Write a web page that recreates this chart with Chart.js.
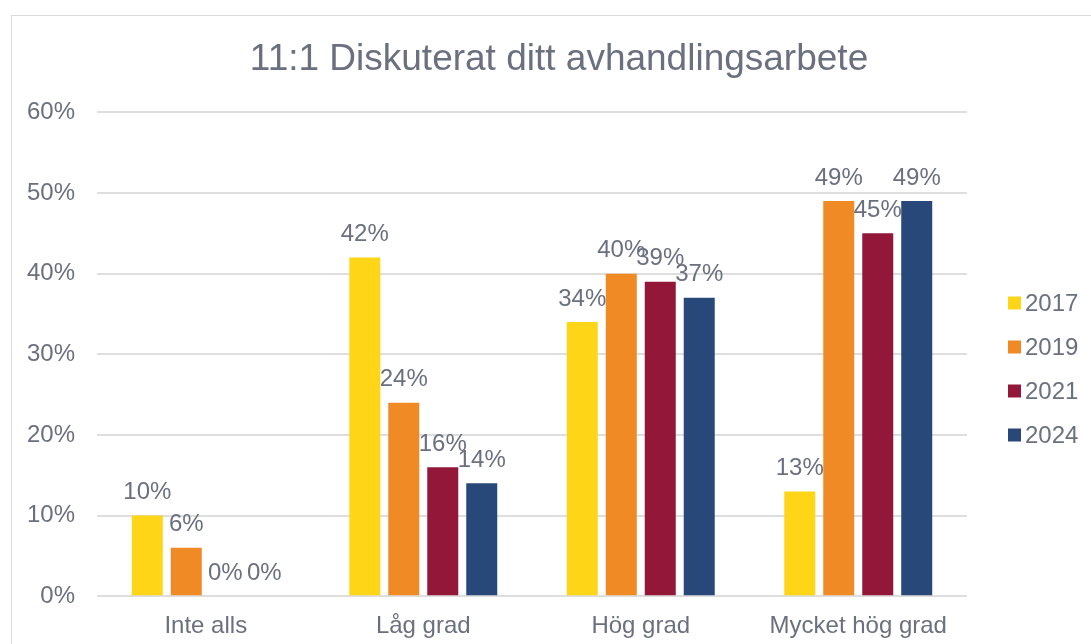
<!DOCTYPE html>
<html>
<head>
<meta charset="utf-8">
<script src="https://cdn.jsdelivr.net/npm/chart.js@4/dist/chart.umd.min.js"></script>
<style>
  html, body { margin: 0; padding: 0; background: #ffffff; overflow: hidden; width: 1091px; height: 644px; }
  #frame { position: absolute; left: 11px; top: 15px; width: 1200px; height: 800px; border-left: 1px solid #dadada; border-top: 1px solid #dadada; box-sizing: border-box; }
  canvas { position: absolute; left: 0; top: 0; }
</style>
</head>
<body>
<div id="frame"></div>
<canvas id="c" width="1091" height="657"></canvas>
<script>
const titleText = '11:1 Diskuterat ditt avhandlingsarbete';
const categories = ['Inte alls', 'Låg grad', 'Hög grad', 'Mycket hög grad'];
const seriesNames = ['2017', '2019', '2021', '2024'];
const values2017 = [10, 42, 34, 13];
const values2019 = [6, 24, 40, 49];
const values2021 = [0, 16, 39, 45];
const values2024 = [0, 14, 37, 49];
const seriesColors = ['#FFD617', '#F08A24', '#931739', '#274879'];
const yTicks = [0, 10, 20, 30, 40, 50, 60];

const textColor = '#6b7080';
const fontFamily = '"Liberation Sans", Arial, sans-serif';

const allValues = [values2017, values2019, values2021, values2024];
const datasets = seriesNames.map((n, i) => ({
  label: n,
  data: allValues[i],
  backgroundColor: seriesColors[i],
  borderWidth: 0,
  categoryPercentage: 0.717,
  barPercentage: 0.795
}));

// The original chart frame spans from x=11 to beyond the visible window; centre the title on it.
const titleSpanPlugin = {
  id: 'titleSpan',
  afterLayout(chart) {
    const t = chart.titleBlock;
    if (t) { t.left = 11; t.right = 1107; t.width = t.right - t.left; }
  }
};

const labelPlugin = {
  id: 'valueLabels',
  afterDatasetsDraw(chart) {
    const ctx = chart.ctx;
    ctx.save();
    ctx.font = '24px ' + fontFamily;
    ctx.fillStyle = textColor;
    ctx.textAlign = 'center';
    ctx.textBaseline = 'middle';
    chart.data.datasets.forEach((ds, di) => {
      const meta = chart.getDatasetMeta(di);
      meta.data.forEach((bar, i) => {
        ctx.fillText(ds.data[i] + '%', bar.x, bar.y - 23);
      });
    });
    ctx.restore();
  }
};

const legendPlugin = {
  id: 'sideLegend',
  afterDraw(chart) {
    const ctx = chart.ctx;
    const area = chart.chartArea;
    const x0 = area.right + 41;
    const step = 44;
    const cy = 369;
    const n = chart.data.datasets.length;
    ctx.save();
    ctx.font = '24px ' + fontFamily;
    ctx.textBaseline = 'middle';
    ctx.textAlign = 'left';
    chart.data.datasets.forEach((ds, i) => {
      const y = cy + (i - (n - 1) / 2) * step;
      ctx.fillStyle = ds.backgroundColor;
      ctx.fillRect(x0, y - 6.5, 13, 13);
      ctx.fillStyle = textColor;
      ctx.fillText(ds.label, x0 + 17, y + 1);
    });
    ctx.restore();
  }
};

new Chart(document.getElementById('c'), {
  type: 'bar',
  data: { labels: categories, datasets },
  plugins: [titleSpanPlugin, labelPlugin, legendPlugin],
  options: {
    responsive: false,
    animation: false,
    devicePixelRatio: 1,
    layout: { padding: { left: 5, right: 124, top: 0, bottom: 0 } },
    plugins: {
      legend: { display: false },
      tooltip: { enabled: false },
      title: {
        display: true,
        text: titleText,
        color: textColor,
        font: { family: fontFamily, size: 37, weight: 'normal' },
        padding: { top: 38, bottom: 30 }
      }
    },
    scales: {
      x: {
        grid: { display: false, drawTicks: false },
        border: { display: false },
        ticks: { color: textColor, font: { family: fontFamily, size: 24 }, padding: 16 }
      },
      y: {
        min: 0,
        max: 60,
        afterBuildTicks(scale) { scale.ticks = yTicks.map(v => ({ value: v })); },
        grid: { color: '#dedede', lineWidth: 2, drawTicks: false },
        border: { display: false },
        ticks: {
          color: textColor,
          font: { family: fontFamily, size: 24 },
          padding: 22,
          callback: v => v + '%'
        }
      }
    }
  }
});
</script>
</body>
</html>
